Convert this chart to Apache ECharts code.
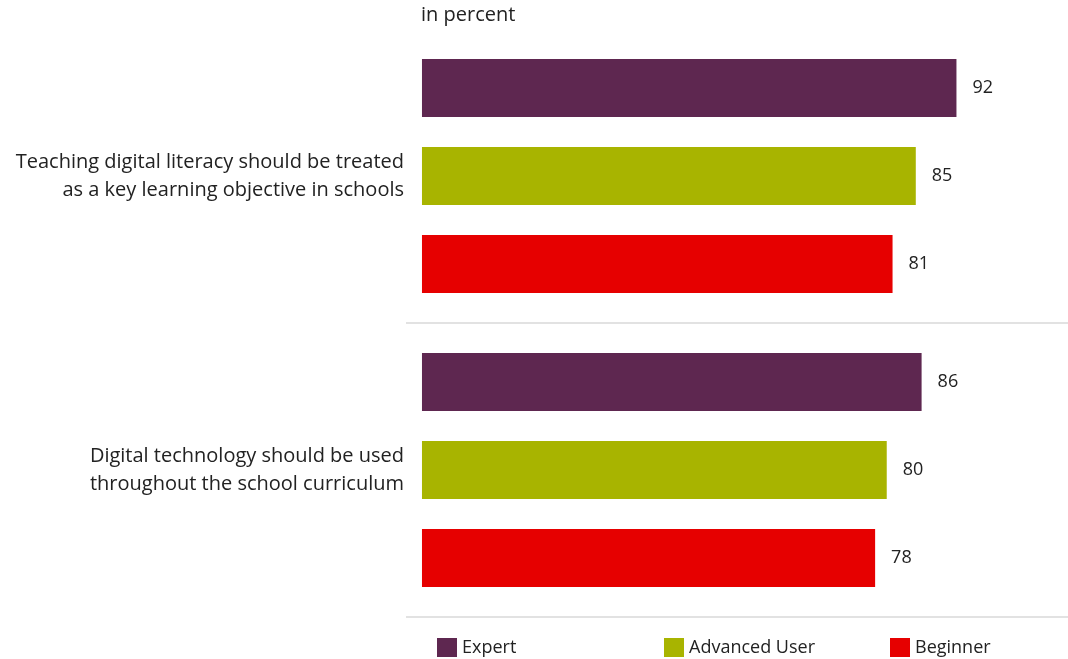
<!DOCTYPE html>
<html>
<head>
<meta charset="utf-8">
<title>Digital literacy in schools</title>
<script src="https://cdn.jsdelivr.net/npm/echarts@6/dist/echarts.min.js"></script>
<style>
  html, body { margin: 0; padding: 0; background: #ffffff; }
  #chart { width: 1068px; height: 659px; }
</style>
</head>
<body>
<div id="chart"></div>
<script>
// Statements shown on the category axis
const categories = [
  'Teaching digital literacy should be treated\nas a key learning objective in schools',
  'Digital technology should be used\nthroughout the school curriculum'
];

// Respondent groups (legend order)
const groupNames = ['Expert', 'Advanced User', 'Beginner'];

// Agreement in percent for each statement
const expertValues = [92, 86];
const advancedValues = [85, 80];
const beginnerValues = [81, 78];

const groupColors = ['#5E2750', '#A8B400', '#E60000'];
const fontFamily = '"Open Sans", "Noto Sans", sans-serif';
const textColor = '#222222';

const chart = echarts.init(document.getElementById('chart'), null, { renderer: 'canvas' });

function makeSeries(name, values, color) {
  return {
    name: name,
    type: 'bar',
    data: values,
    barWidth: 58,
    barGap: '51.7%',
    itemStyle: { color: color },
    label: {
      show: true,
      position: 'right',
      distance: 16,
      fontFamily: fontFamily,
      fontSize: 18,
      color: textColor
    },
    emphasis: { disabled: true },
    animation: false
  };
}

// One legend block per group so the entries sit on an even spacing
const legendLefts = [437, 664, 890];
const legends = groupNames.map(function (name, i) {
  return {
    data: [name],
    left: legendLefts[i],
    top: 638,
    padding: 0,
    itemWidth: 20,
    itemHeight: 19,
    icon: 'rect',
    selectedMode: false,
    textStyle: {
      fontFamily: fontFamily,
      fontSize: 18,
      color: textColor
    }
  };
});

chart.setOption({
  animation: false,
  title: {
    text: 'in percent',
    left: 416,
    top: 0,
    textStyle: {
      fontFamily: fontFamily,
      fontSize: 20,
      fontWeight: 'normal',
      color: textColor
    }
  },
  legend: legends,
  grid: {
    left: 406,
    right: 0,
    top: 29,
    bottom: 42,
    containLabel: false
  },
  xAxis: {
    type: 'value',
    min: -2.75,
    max: 111.2,
    show: false,
    splitLine: { show: false }
  },
  yAxis: {
    type: 'category',
    data: categories,
    inverse: true,
    axisLine: { show: false },
    axisTick: { show: false },
    axisLabel: {
      margin: 2,
      fontFamily: fontFamily,
      fontSize: 20,
      lineHeight: 28,
      color: textColor,
      align: 'right'
    },
    splitLine: {
      show: true,
      showMinLine: false,
      lineStyle: { color: '#e2e2e2', width: 2 }
    }
  },
  series: [
    makeSeries(groupNames[0], expertValues, groupColors[0]),
    makeSeries(groupNames[1], advancedValues, groupColors[1]),
    makeSeries(groupNames[2], beginnerValues, groupColors[2])
  ]
});
</script>
</body>
</html>
